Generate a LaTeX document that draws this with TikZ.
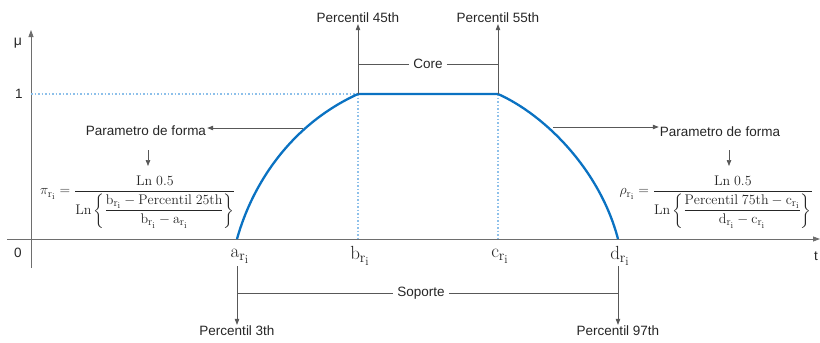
\RequirePackage{fix-cm}
\documentclass[tikz,border=0pt]{standalone}
\usepackage{amsmath}
\usepackage{fontspec}
\newfontfamily\lab{Liberation Sans}
\usetikzlibrary{arrows.meta}
\DeclareMathSizes{14}{14}{11}{9}
\DeclareMathSizes{19}{19}{14.5}{12}
\definecolor{axisgray}{HTML}{6E6E6E}
\definecolor{txt}{HTML}{262626}
\definecolor{curveblue}{HTML}{0A72C2}
\definecolor{dotblue}{HTML}{8DC0EA}
\tikzset{
  lbl/.style={font=\lab\fontsize{13.5}{16}\selectfont, text=txt, inner sep=1pt},
  pt/.style={font=\fontsize{19}{21}\selectfont, text=txt, inner sep=1pt},
  frm/.style={font=\fontsize{14}{17}\selectfont, text=txt, inner sep=0pt},
  axisline/.style={draw=axisgray, line width=0.8pt},
  arr/.style={draw=axisgray!80!black, line width=0.7pt, -{Triangle[length=6pt,width=4.5pt]}},
  thin/.style={draw=axisgray!80!black, line width=0.7pt},
  curve/.style={draw=curveblue, line width=2.3pt},
  dots/.style={draw=dotblue, line width=1.9pt, dash pattern=on 1.9pt off 1.6pt}
}
\begin{document}
\begin{tikzpicture}[x=1pt,y=-1pt]
\useasboundingbox (0,0) rectangle (820,343);
% axes
\coordinate (o) at (31,239);
\coordinate (ybot) at (31,268);
\coordinate (ytop) at (31,30);
\coordinate (xl) at (7,239);
\coordinate (xr) at (820,239);
\draw[axisline, -{Triangle[length=7pt,width=5pt]}] (ybot) -- (ytop);
\draw[axisline, -{Triangle[length=7pt,width=5pt]}] (xl) -- (xr);
\node[lbl, font=\lab\fontsize{14}{16}\selectfont] (mu) at (18,43) {μ};
\node[lbl] (one) at (19,94) {1};
\node[lbl] (zero) at (18,253) {0};
\node[lbl] (t) at (816,256) {t};
% key points
\coordinate (a) at (237,239);
\coordinate (b) at (358,94);
\coordinate (c) at (498,94);
\coordinate (d) at (618,239);
\coordinate (bx) at (358,239);
\coordinate (cx) at (498,239);
\coordinate (y1) at (31,94);
% dotted guides
\draw[dots] (y1) -- (b);
\draw[dots] (b) -- (bx);
\draw[dots] (c) -- (cx);
% membership curve
\draw[curve, line join=round] (a) .. controls (252,185) and (290,125) .. (b) -- (c) .. controls (545,115) and (600,170) .. (d);
% point labels
\node[pt] (la) at (240,256) {$\mathrm{a}_{\mathrm{r_i}}$};
\node[pt] (lb) at (360,256) {$\mathrm{b}_{\mathrm{r_i}}$};
\node[pt] (lc) at (500,256) {$\mathrm{c}_{\mathrm{r_i}}$};
\node[pt] (ld) at (620,256) {$\mathrm{d}_{\mathrm{r_i}}$};
% core
\node[lbl] (p45) at (358,18) {Percentil 45th};
\node[lbl] (p55) at (498,18) {Percentil 55th};
\draw[arr] (b) -- (p45.south -| b);
\draw[arr] (c) -- (p55.south -| c);
\node[lbl, inner sep=4pt] (core) at (428,64) {Core};
\draw[thin] (358,64) -- (core.west);
\draw[thin] (core.east) -- (498,64);
% support
\coordinate (as) at (237,266);
\coordinate (ds) at (618,266);
\node[lbl] (p3) at (237,331) {Percentil 3th};
\node[lbl] (p97) at (618,331) {Percentil 97th};
\draw[arr] (as) -- (p3.north -| as);
\draw[arr] (ds) -- (p97.north -| ds);
\node[lbl, inner sep=4pt] (sop) at (421,293) {Soporte};
\draw[thin] (237,293) -- (sop.west);
\draw[thin] (sop.east) -- (618,293);
% shape parameters
\node[lbl] (pfl) at (146,131) {Parametro de forma};
\node[lbl] (pfr) at (720,132) {Parametro de forma};
\coordinate (cl) at (303,128);
\coordinate (cr) at (553,127);
\draw[arr] (cl) -- (pfl.east |- cl);
\draw[arr] (cr) -- (pfr.west |- cr);
% formulas
\node[frm, anchor=west] (fpi) at (40,202) {$\pi_{\mathrm{r_i}} = \dfrac{\mathrm{Ln}\;0.5}{\mathrm{Ln}\left\{\dfrac{\mathrm{b}_{\mathrm{r_i}} - \mathrm{Percentil\;25th}}{\mathrm{b}_{\mathrm{r_i}} - \mathrm{a}_{\mathrm{r_i}}}\right\}}$};
\node[frm, anchor=east] (frho) at (813,202) {$\rho_{\mathrm{r_i}} = \dfrac{\mathrm{Ln}\;0.5}{\mathrm{Ln}\left\{\dfrac{\mathrm{Percentil\;75th} - \mathrm{c}_{\mathrm{r_i}}}{\mathrm{d}_{\mathrm{r_i}} - \mathrm{c}_{\mathrm{r_i}}}\right\}}$};
\coordinate (dl) at (148,150);
\coordinate (dr) at (729,150);
\draw[arr] (dl) -- (148,166);
\draw[arr] (dr) -- (729,166);
\end{tikzpicture}
\end{document}
